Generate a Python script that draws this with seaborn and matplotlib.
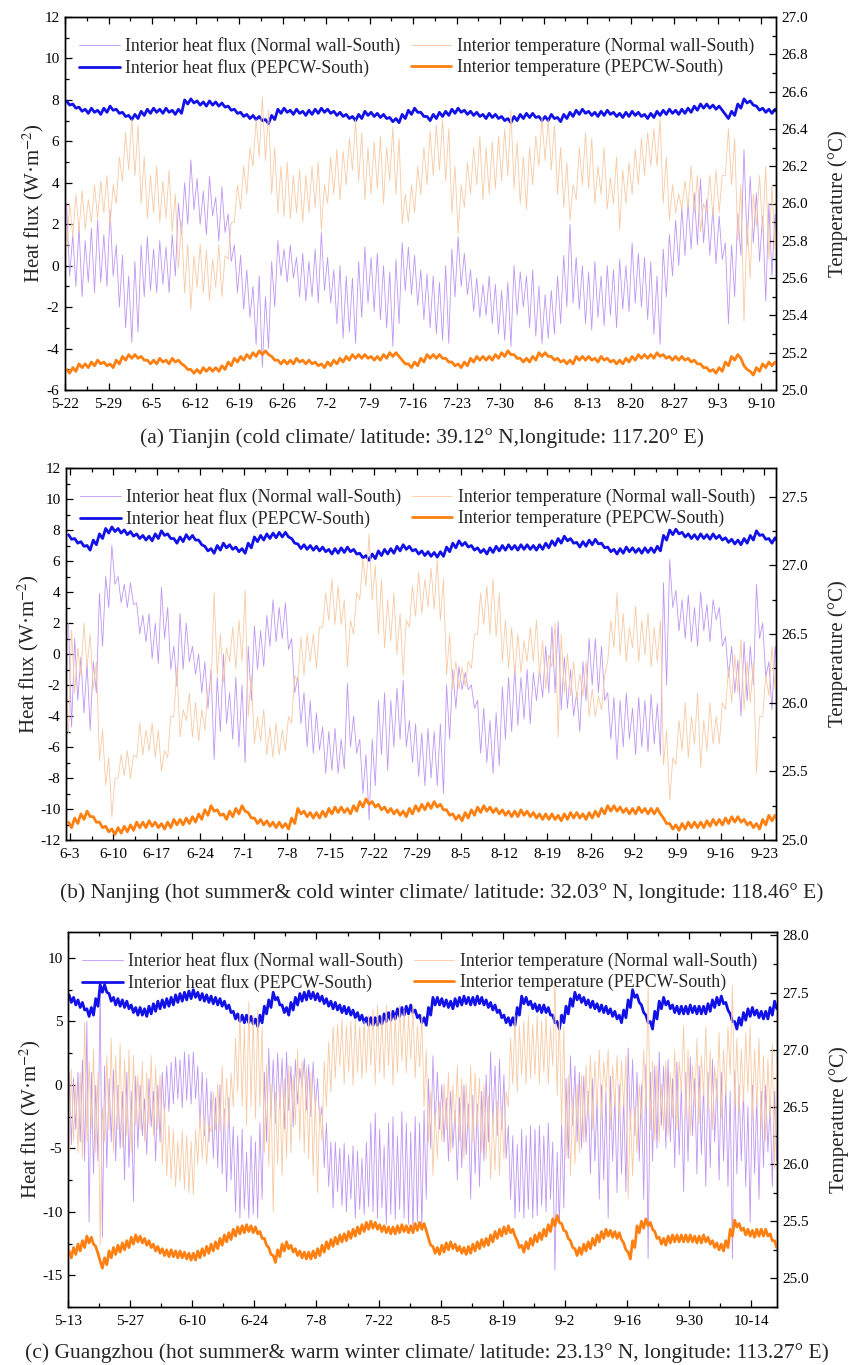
import numpy as np
import matplotlib
matplotlib.use("Agg")
import matplotlib.pyplot as plt
from matplotlib.ticker import MultipleLocator, FormatStrFormatter, FuncFormatter
import seaborn as sns

# ---------------- DATA (daily highs / lows) ----------------
# Panel (a) Tianjin
a_labels = ["5-22","5-29","6-5","6-12","6-19","6-26","7-2","7-9","7-16","7-23","7-30","8-6","8-13","8-20","8-27","9-3","9-10"]
flux_normal_a_hi = [3.0,1.5,1.9,1.2,1.8,2.2,1.5,2.7,1.0,0.5,-0.5,0.2,1.0,1.4,0.8,1.2,0.9,1.5,3.0,4.0,5.1,4.2,3.6,4.3,3.3,3.8,2.5,1.0,0.5,-0.2,-1.0,-0.5,-1.5,0.2,1.2,0.8,1.0,0.4,0.6,0.2,
    0.8,1.6,0.4,-0.2,0.0,-0.5,-0.6,0.2,0.9,0.4,0.6,0.0,-0.3,0.3,1.1,0.9,0.5,-0.2,-0.4,-0.5,-0.8,0.0,0.8,1.4,0.6,-0.2,-0.6,-0.9,-0.5,-0.9,-1.2,-0.8,0.0,-0.3,-0.5,-0.2,-1.0,-1.4,
    -1.2,-0.5,0.5,2.0,0.4,0.0,-0.3,0.2,-0.5,0.0,-0.2,0.3,0.0,1.1,0.6,0.4,0.2,-0.5,0.8,1.5,2.2,2.8,3.0,3.5,4.2,3.2,2.8,2.4,1.1,1.0,2.5,5.6,4.3,3.5,2.4,3.0,2.5]
flux_normal_a_lo = [-0.5,-1.0,-1.5,-0.8,-1.3,-0.8,-1.0,-0.5,-2.0,-3.0,-3.7,-3.2,-1.5,-1.2,-1.3,-0.9,-1.3,-0.5,1.5,2.0,2.7,2.0,1.5,2.4,1.2,1.6,0.2,-1.3,-2.1,-2.5,-3.8,-4.9,-4.0,-2.0,-0.5,-0.8,-0.6,-1.5,-1.7,-1.5,
    -1.8,-1.2,-1.8,-2.8,-3.5,-3.2,-3.75,-2.5,-1.8,-2.2,-2.6,-3.0,-3.9,-2.8,-1.2,-1.4,-1.9,-2.6,-3.0,-3.3,-3.6,-3.75,-1.5,-1.0,-1.4,-2.2,-2.5,-2.4,-2.8,-3.3,-3.6,-3.9,-2.4,-2.0,-3.0,-3.4,-3.75,-3.5,
    -3.3,-2.8,-2.0,-1.8,-2.1,-2.8,-3.1,-2.5,-2.9,-2.4,-3.0,-2.1,-2.2,-1.8,-2.0,-2.6,-3.3,-3.8,-1.5,-0.5,0.0,0.5,0.8,1.0,1.1,0.5,0.1,0.3,-2.8,-1.5,0.5,1.0,1.1,0.2,-1.7,-0.5,-1.0]
flux_pepcw_a_hi = [7.95,7.8,7.65,7.55,7.6,7.5,7.6,7.7,7.55,7.4,7.25,7.3,7.45,7.55,7.6,7.55,7.6,7.5,7.55,8.0,8.05,7.95,7.9,7.95,7.9,7.85,7.7,7.55,7.4,7.3,7.25,7.2,7.05,7.25,7.55,7.6,7.5,7.55,7.45,7.5,
    7.55,7.6,7.55,7.45,7.4,7.3,7.2,7.3,7.45,7.4,7.35,7.3,7.15,7.1,7.3,7.5,7.6,7.4,7.2,7.3,7.4,7.45,7.55,7.6,7.5,7.45,7.4,7.3,7.35,7.3,7.2,7.1,7.2,7.3,7.35,7.35,7.2,7.2,
    7.3,7.15,7.3,7.4,7.5,7.55,7.45,7.4,7.45,7.5,7.4,7.35,7.4,7.45,7.4,7.3,7.35,7.45,7.5,7.55,7.5,7.55,7.6,7.7,7.8,7.8,7.75,7.7,7.3,7.45,7.8,8.05,7.95,7.7,7.6,7.55,7.55]
flux_pepcw_a_lo = [7.75,7.6,7.45,7.35,7.4,7.3,7.4,7.5,7.35,7.2,7.05,7.1,7.25,7.35,7.4,7.35,7.4,7.3,7.35,7.8,7.85,7.75,7.7,7.75,7.7,7.65,7.5,7.35,7.2,7.1,7.05,7.0,6.85,7.05,7.35,7.4,7.3,7.35,7.25,7.3,
    7.35,7.4,7.35,7.25,7.2,7.1,7.0,7.1,7.25,7.2,7.15,7.1,6.95,6.9,7.1,7.3,7.4,7.2,7.0,7.1,7.2,7.25,7.35,7.4,7.3,7.25,7.2,7.1,7.15,7.1,7.0,6.9,7.0,7.1,7.15,7.15,7.0,7.0,
    7.1,6.95,7.1,7.2,7.3,7.35,7.25,7.2,7.25,7.3,7.2,7.15,7.2,7.25,7.2,7.1,7.15,7.25,7.3,7.35,7.3,7.35,7.4,7.5,7.6,7.6,7.55,7.5,7.1,7.25,7.6,7.85,7.75,7.5,7.4,7.35,7.35]
temp_normal_a_hi = [26.0,26.05,26.07,26.02,26.1,26.12,26.15,26.1,26.25,26.38,26.45,26.42,26.25,26.15,26.2,26.12,26.18,26.05,25.9,25.78,25.72,25.78,25.75,25.7,25.78,25.72,25.9,26.1,26.2,26.3,26.45,26.57,26.5,26.3,26.2,26.22,26.15,26.18,26.15,26.2,
    26.22,26.1,26.25,26.29,26.28,26.35,26.45,26.38,26.3,26.33,26.36,26.3,26.41,26.35,26.05,26.1,26.2,26.3,26.39,26.42,26.45,26.4,26.2,26.1,26.22,26.3,26.36,26.3,26.33,26.36,26.4,26.5,26.33,26.25,26.3,26.36,26.46,26.45,
    26.42,26.3,26.22,26.1,26.3,26.38,26.35,26.2,26.3,26.14,26.25,26.18,26.22,26.29,26.35,26.38,26.4,26.45,26.25,26.1,26.05,26.12,26.2,26.15,26.0,26.15,26.18,26.15,26.4,26.35,26.1,25.9,26.05,26.15,26.2,26.1,26.15]
temp_normal_a_lo = [25.75,25.82,25.85,25.86,25.9,25.92,25.95,25.88,26.0,26.12,26.18,26.15,26.0,25.92,25.95,25.9,25.92,25.85,25.65,25.52,25.43,25.55,25.52,25.48,25.55,25.5,25.7,25.9,25.97,26.05,26.2,26.25,26.23,26.05,25.95,25.93,25.92,25.95,25.9,25.95,
    25.98,25.86,26.0,26.05,26.02,26.1,26.18,26.12,26.02,26.05,26.08,26.0,26.12,26.05,25.89,25.9,25.95,26.05,26.1,26.15,26.18,26.12,25.95,25.84,25.98,26.05,26.1,26.02,26.05,26.08,26.12,26.15,26.08,26.0,25.97,26.1,26.2,26.23,
    26.18,26.05,25.98,25.91,26.02,26.1,26.08,26.0,26.05,25.97,26.0,25.86,26.0,26.05,26.1,26.15,26.2,26.2,26.0,25.91,25.95,25.97,25.98,25.95,25.85,25.95,25.93,25.95,26.15,26.1,25.8,25.37,25.6,25.88,25.85,25.7,25.75]
temp_pepcw_a_hi = [25.11,25.12,25.14,25.14,25.15,25.16,25.15,25.14,25.16,25.18,25.19,25.19,25.18,25.16,25.16,25.17,25.16,25.17,25.16,25.13,25.11,25.11,25.12,25.12,25.12,25.13,25.15,25.17,25.18,25.19,25.20,25.21,25.21,25.18,25.16,25.16,25.16,25.17,25.16,25.16,
    25.15,25.14,25.15,25.16,25.17,25.18,25.19,25.19,25.19,25.18,25.18,25.19,25.20,25.20,25.16,25.14,25.15,25.17,25.19,25.19,25.19,25.17,25.15,25.14,25.15,25.17,25.18,25.18,25.18,25.19,25.20,25.21,25.19,25.17,25.17,25.18,25.20,25.20,
    25.18,25.17,25.16,25.16,25.18,25.18,25.18,25.17,25.18,25.17,25.16,25.16,25.17,25.18,25.19,25.19,25.19,25.20,25.19,25.18,25.18,25.18,25.17,25.16,25.14,25.12,25.11,25.12,25.15,25.18,25.19,25.13,25.10,25.12,25.14,25.15,25.15]
temp_pepcw_a_lo = [25.09,25.10,25.12,25.12,25.13,25.14,25.13,25.12,25.14,25.16,25.17,25.17,25.16,25.14,25.14,25.15,25.14,25.15,25.14,25.11,25.09,25.09,25.10,25.10,25.10,25.11,25.13,25.15,25.16,25.17,25.18,25.19,25.19,25.16,25.14,25.14,25.14,25.15,25.14,25.14,
    25.13,25.12,25.13,25.14,25.15,25.16,25.17,25.17,25.17,25.16,25.16,25.17,25.18,25.18,25.14,25.12,25.13,25.15,25.17,25.17,25.17,25.15,25.13,25.12,25.13,25.15,25.16,25.16,25.16,25.17,25.18,25.19,25.17,25.15,25.15,25.16,25.18,25.18,
    25.16,25.15,25.14,25.14,25.16,25.16,25.16,25.15,25.16,25.15,25.14,25.14,25.15,25.16,25.17,25.17,25.17,25.18,25.17,25.16,25.16,25.16,25.15,25.14,25.12,25.10,25.09,25.10,25.13,25.16,25.17,25.11,25.08,25.10,25.12,25.13,25.13]

# Panel (b) Nanjing
b_labels = ["6-3","6-10","6-17","6-24","7-1","7-8","7-15","7-22","7-29","8-5","8-12","8-19","8-26","9-2","9-9","9-16","9-23"]
flux_normal_b_hi = [2.0,1.0,-0.2,-0.6,-0.5,3.9,5.0,7.0,5.0,4.5,4.6,3.3,2.5,2.6,2.0,4.3,3.0,0.5,2.6,2.0,0.5,0.0,-0.5,-1.0,-1.5,0.0,-2.5,-1.5,-2.0,0.5,1.8,1.5,2.5,3.5,3.0,3.3,1.0,-1.5,-2.5,
    -3.0,-3.8,-4.7,-5.0,-4.8,-5.5,-1.9,-4.0,-5.5,-6.5,-5.5,-3.0,-2.5,-3.0,-2.2,-1.7,-4.3,-4.5,-5.1,-4.8,-5.0,-4.5,-2.0,-1.0,-0.8,-1.2,-2.0,-3.0,-3.5,-4.3,-3.8,-2.1,-1.5,-0.8,-1.5,-1.0,-1.2,-1.0,0.5,
    1.8,2.1,-0.2,-1.0,-2.5,-0.5,1.0,1.0,0.5,-2.5,-2.8,-3.0,-2.5,-3.5,-2.8,-3.0,-2.6,-3.2,4.6,6.1,4.1,3.5,3.8,3.0,4.0,3.2,3.5,3.0,1.1,0.5,-0.4,0.8,0.5,4.5,2.0,-0.5,0.5]
flux_normal_b_lo = [-4.7,-3.0,-3.8,-4.9,-2.5,0.5,3.0,4.5,3.3,3.0,3.2,1.3,0.8,-0.3,-0.6,1.0,-1.0,-2.1,-1.0,-0.5,-1.3,-2.5,-3.5,-6.8,-5.0,-4.5,-5.5,-6.0,-7.0,-3.0,-1.0,-0.8,0.5,0.8,1.0,0.3,-2.5,-4.5,-6.0,
    -6.4,-6.2,-7.7,-7.5,-7.7,-7.4,-6.0,-6.4,-9.0,-10.7,-8.5,-6.5,-7.5,-6.0,-5.5,-6.0,-7.0,-7.9,-8.5,-8.0,-8.5,-9.0,-5.5,-3.5,-2.3,-2.3,-3.5,-6.4,-7.0,-7.7,-7.2,-5.5,-5.0,-4.6,-4.2,-4.5,-3.0,-2.8,-2.5,
    -2.5,-3.6,-3.5,-4.0,-5.0,-3.0,-2.0,-2.5,-3.0,-5.5,-6.8,-6.0,-5.5,-6.5,-6.0,-6.3,-5.8,-6.5,-2.0,3.0,1.5,1.0,0.8,0.5,1.5,0.8,2.2,0.5,-1.5,-2.5,-4.0,-3.0,-2.0,1.0,-1.5,-3.6,-1.5]
flux_pepcw_b_hi = [7.7,7.45,7.25,7.0,7.35,7.75,8.1,8.2,8.1,8.0,7.9,7.75,7.65,7.6,7.75,7.95,7.75,7.45,7.55,7.7,7.65,7.35,6.95,6.8,7.0,7.15,7.05,6.9,6.8,7.15,7.55,7.65,7.75,7.8,7.85,7.85,7.45,7.1,7.05,
    7.0,6.95,6.9,6.75,6.8,6.85,6.9,6.75,6.5,6.35,6.45,6.65,6.75,6.8,6.95,7.05,6.95,6.75,6.65,6.6,6.55,6.6,6.9,7.15,7.3,7.2,7.0,6.85,6.75,6.85,6.95,7.0,7.05,7.0,7.05,7.05,7.0,7.05,7.15,
    7.3,7.45,7.6,7.45,7.2,7.25,7.35,7.4,7.15,6.9,6.75,6.8,6.9,6.85,6.8,6.85,6.85,6.95,7.65,8.0,8.05,7.85,7.75,7.7,7.75,7.7,7.75,7.65,7.5,7.4,7.35,7.45,7.65,7.95,7.7,7.45,7.5]
flux_pepcw_b_lo = [7.4,7.15,6.95,6.7,7.05,7.45,7.8,7.9,7.8,7.7,7.6,7.45,7.35,7.3,7.45,7.65,7.45,7.15,7.25,7.4,7.35,7.05,6.65,6.5,6.7,6.85,6.75,6.6,6.5,6.85,7.25,7.35,7.45,7.5,7.55,7.55,7.15,6.8,6.75,
    6.7,6.65,6.6,6.45,6.5,6.55,6.6,6.45,6.2,6.05,6.15,6.35,6.45,6.5,6.65,6.75,6.65,6.45,6.35,6.3,6.25,6.3,6.6,6.85,7.0,6.9,6.7,6.55,6.45,6.55,6.65,6.7,6.75,6.7,6.75,6.75,6.7,6.75,6.85,
    7.0,7.15,7.3,7.15,6.9,6.95,7.05,7.1,6.85,6.6,6.45,6.5,6.6,6.55,6.5,6.55,6.55,6.65,7.35,7.7,7.75,7.55,7.45,7.4,7.45,7.4,7.45,7.35,7.2,7.1,7.05,7.15,7.35,7.65,7.4,7.15,7.2]
temp_normal_b_hi = [26.53,26.4,26.58,26.5,26.3,25.8,25.6,25.45,25.62,25.65,25.62,25.85,25.8,25.85,25.8,25.65,25.9,26.26,25.95,26.07,26.0,25.95,26.1,26.8,26.5,26.4,26.55,26.6,26.82,26.2,25.9,25.95,25.82,25.85,25.8,25.9,26.2,26.48,26.5,
    26.5,26.55,26.8,26.9,26.85,26.75,26.6,26.8,27.05,27.23,27.0,26.9,26.75,26.8,26.65,26.6,26.85,26.95,26.9,26.98,27.04,26.9,26.5,26.3,26.26,26.3,26.5,26.8,26.85,26.9,26.8,26.6,26.55,26.5,26.45,26.55,26.6,26.45,26.35,
    26.58,26.5,26.36,26.3,26.21,26.3,26.1,26.05,26.2,26.6,26.8,26.65,26.55,26.7,26.6,26.65,26.55,26.6,25.8,25.6,25.87,26.0,25.9,26.07,25.87,26.0,25.9,26.0,26.26,26.35,26.46,26.3,26.3,25.9,26.2,26.41,26.3]
temp_normal_b_lo = [25.78,26.07,26.2,26.26,26.1,25.58,25.4,25.17,25.45,25.47,25.45,25.6,25.62,25.65,25.6,25.5,25.6,25.9,25.75,25.87,25.75,25.72,25.8,26.1,26.2,26.15,26.3,26.25,26.3,25.9,25.7,25.72,25.62,25.6,25.62,25.65,25.85,26.15,26.2,
    26.3,26.25,26.55,26.6,26.57,26.57,26.26,26.5,26.75,26.85,26.75,26.5,26.4,26.45,26.35,26.2,26.55,26.63,26.65,26.7,26.68,26.6,26.2,26.1,26.1,26.12,26.25,26.5,26.57,26.5,26.48,26.3,26.25,26.2,26.22,26.3,26.3,26.2,26.1,
    26.26,25.75,26.07,26.05,26.02,26.05,25.9,25.9,25.95,26.3,26.4,26.35,26.3,26.4,26.3,26.35,26.26,26.3,25.55,25.29,25.55,25.65,25.6,25.7,25.53,25.65,25.7,25.7,25.95,26.0,26.07,25.95,26.0,25.49,25.9,26.05,26.1]
temp_pepcw_b_hi = [25.13,25.16,25.19,25.21,25.17,25.13,25.10,25.08,25.09,25.10,25.11,25.13,25.13,25.14,25.13,25.12,25.13,25.15,25.15,25.16,25.17,25.19,25.22,25.25,25.22,25.19,25.21,25.23,25.25,25.20,25.16,25.15,25.14,25.13,25.13,25.12,25.16,25.23,25.21,
    25.20,25.20,25.21,25.23,25.24,25.24,25.23,25.25,25.28,25.30,25.28,25.26,25.24,25.23,25.22,25.21,25.23,25.25,25.26,25.27,25.28,25.26,25.22,25.19,25.18,25.20,25.22,25.24,25.25,25.24,25.23,25.22,25.21,25.21,25.22,25.21,25.20,25.19,25.19,
    25.19,25.18,25.19,25.20,25.20,25.19,25.20,25.21,25.23,25.25,25.25,25.24,25.23,25.23,25.24,25.23,25.23,25.23,25.16,25.12,25.11,25.12,25.13,25.13,25.13,25.14,25.15,25.15,25.16,25.17,25.17,25.15,25.13,25.12,25.15,25.18,25.18]
temp_pepcw_b_lo = [25.09,25.12,25.15,25.17,25.13,25.09,25.06,25.04,25.05,25.06,25.07,25.09,25.09,25.10,25.09,25.08,25.09,25.11,25.11,25.12,25.13,25.15,25.18,25.21,25.18,25.15,25.17,25.19,25.21,25.16,25.12,25.11,25.10,25.09,25.09,25.08,25.12,25.19,25.17,
    25.16,25.16,25.17,25.19,25.20,25.20,25.19,25.21,25.24,25.26,25.24,25.22,25.20,25.19,25.18,25.17,25.19,25.21,25.22,25.23,25.24,25.22,25.18,25.15,25.14,25.16,25.18,25.20,25.21,25.20,25.19,25.18,25.17,25.17,25.18,25.17,25.16,25.15,25.15,
    25.15,25.14,25.15,25.16,25.16,25.15,25.16,25.17,25.19,25.21,25.21,25.20,25.19,25.19,25.20,25.19,25.19,25.19,25.12,25.08,25.07,25.08,25.09,25.09,25.09,25.10,25.11,25.11,25.12,25.13,25.13,25.11,25.09,25.08,25.11,25.14,25.14]

# Panel (c) Guangzhou
c_labels = ["5-13","5-27","6-10","6-24","7-8","7-22","8-5","8-19","9-2","9-16","9-30","10-14"]
flux_normal_c_hi = [1.0,0.5,1.0,2.0,5.0,1.0,0.0,7.9,1.5,0.5,1.2,0.0,-0.5,1.0,-0.5,0.7,0.0,-1.1,0.5,-0.5,0.0,1.0,1.5,1.8,2.2,2.0,2.6,2.4,2.6,1.5,1.0,0.5,-0.5,-1.0,0.0,-1.9,-1.0,-3.3,-4.0,-3.5,-5.3,-4.0,-4.5,-3.0,1.0,2.9,2.0,2.5,2.1,2.6,1.5,2.0,1.3,2.1,1.6,
    1.8,0.5,-1.7,-3.0,-4.5,-4.5,-5.0,-4.6,-5.5,-4.8,-5.2,-5.8,-4.5,-3.0,-2.2,-3.5,-4.8,-3.0,-2.5,-4.0,-2.1,-3.0,-3.7,-2.5,-3.0,-2.0,0.5,2.3,1.0,0.0,-1.0,-0.5,-2.0,-1.0,0.0,-1.5,-0.8,-1.5,-0.5,0.8,2.6,1.5,2.0,0.8,-3.2,-4.0,-4.7,-3.5,-4.0,-3.2,-3.5,-3.2,-4.0,-3.0,
    -4.5,-5.3,-3.0,0.5,2.3,1.5,1.0,0.7,-0.5,0.5,-1.1,0.0,-0.5,0.7,-0.8,0.0,-1.0,2.9,2.0,1.0,0.0,1.6,1.0,1.5,2.6,1.5,2.0,0.5,1.8,0.0,1.0,2.2,0.5,1.5,0.0,1.0,2.0,0.5,1.0,0.0,-0.5,1.1,0.0,-0.5,-1.7,0.0,-1.0,-0.5,0.0,-1.5,-0.5]
flux_normal_c_lo = [-4.7,-3.5,-4.5,-6.0,-10.8,-7.0,-6.0,-12.0,-6.5,-4.5,-6.0,-5.0,-7.5,-6.5,-9.2,-5.0,-4.0,-5.5,-3.3,-6.0,-4.5,-2.5,-2.1,-1.5,-1.1,-1.8,-1.2,-1.5,-1.1,-3.3,-4.0,-4.5,-5.8,-6.5,-7.0,-8.4,-7.5,-10.0,-10.5,-9.8,-10.5,-10.2,-10.5,-9.0,-4.5,-2.5,-3.0,-1.9,-3.5,-2.0,-3.3,-1.5,-0.2,-2.0,-2.5,
    -1.7,-3.0,-6.5,-8.0,-9.7,-8.4,-9.5,-10.0,-9.0,-10.5,-9.8,-10.2,-9.6,-10.0,-10.5,-9.7,-11.0,-10.2,-10.6,-9.8,-10.5,-11.0,-11.6,-10.8,-11.2,-9.0,-5.0,-3.2,-3.5,-4.5,-6.0,-5.0,-7.5,-6.5,-5.5,-9.0,-7.0,-8.0,-6.0,-4.5,-3.2,-4.0,-3.5,-5.8,-9.0,-10.5,-10.0,-10.5,-9.8,-10.5,-10.3,-9.5,-10.0,-9.0,
    -14.6,-11.0,-9.7,-5.8,-3.2,-4.5,-5.0,-4.5,-7.0,-6.0,-9.0,-7.5,-10.5,-6.0,-8.5,-7.0,-8.4,-3.5,-4.0,-6.0,-9.0,-13.7,-6.0,-5.0,-3.2,-5.0,-4.5,-6.5,-5.5,-8.4,-6.0,-4.0,-7.0,-5.5,-8.0,-6.5,-4.5,-7.5,-6.0,-8.0,-13.7,-7.0,-6.0,-8.0,-10.8,-7.0,-9.0,-6.5,-5.3,-8.0,-6.0]
flux_pepcw_c_hi = [7.1,6.9,6.7,6.5,6.0,6.1,6.8,7.9,7.9,7.2,6.9,6.8,6.7,6.6,6.3,6.1,6.1,6.0,6.2,6.4,6.6,6.7,6.8,6.9,7.1,7.2,7.3,7.4,7.5,7.3,7.2,7.1,7.0,6.9,6.8,6.6,6.3,5.8,5.6,5.5,5.5,5.4,5.2,5.5,6.2,6.7,7.3,6.9,6.3,6.1,6.5,6.9,7.2,7.3,7.4,
    7.3,7.2,7.0,6.8,6.6,6.5,6.3,6.2,6.1,5.9,5.7,5.5,5.3,5.3,5.3,5.4,5.6,5.7,5.8,6.0,6.1,6.2,6.3,5.9,5.5,5.3,6.1,6.9,6.9,6.8,6.7,6.6,6.8,6.9,7.0,6.9,6.9,7.0,6.9,6.7,6.5,6.3,5.9,5.5,5.3,5.3,6.1,7.0,6.9,6.6,6.4,6.3,
    6.3,6.1,5.5,5.0,5.5,6.2,6.8,7.3,7.1,6.9,6.7,6.6,6.4,6.3,6.2,6.0,5.8,5.5,5.9,6.7,7.5,7.1,6.3,5.5,5.0,5.8,6.6,6.9,6.6,6.3,6.2,6.2,6.2,6.3,6.2,6.2,6.2,6.4,6.7,6.9,7.0,6.5,5.6,5.0,5.3,5.7,6.0,6.1,5.9,5.8,5.8,6.1,6.6]
flux_pepcw_c_lo = [6.5,6.3,6.1,5.9,5.4,5.5,6.2,7.3,7.3,6.6,6.3,6.2,6.1,6.0,5.7,5.5,5.5,5.4,5.6,5.8,6.0,6.1,6.2,6.3,6.5,6.6,6.7,6.8,6.9,6.7,6.6,6.5,6.4,6.3,6.2,6.0,5.7,5.2,5.0,4.9,4.9,4.8,4.6,4.9,5.6,6.1,6.7,6.3,5.7,5.5,5.9,6.3,6.6,6.7,6.8,
    6.7,6.6,6.4,6.2,6.0,5.9,5.7,5.6,5.5,5.3,5.1,4.9,4.7,4.7,4.7,4.8,5.0,5.1,5.2,5.4,5.5,5.6,5.7,5.3,4.9,4.7,5.5,6.3,6.3,6.2,6.1,6.0,6.2,6.3,6.4,6.3,6.3,6.4,6.3,6.1,5.9,5.7,5.3,4.9,4.7,4.7,5.5,6.4,6.3,6.0,5.8,5.7,
    5.7,5.5,4.9,4.4,4.9,5.6,6.2,6.7,6.5,6.3,6.1,6.0,5.8,5.7,5.6,5.4,5.2,4.9,5.3,6.1,6.9,6.5,5.7,4.9,4.4,5.2,6.0,6.3,6.0,5.7,5.6,5.6,5.6,5.7,5.6,5.6,5.6,5.8,6.1,6.3,6.4,5.9,5.0,4.4,4.7,5.1,5.4,5.5,5.3,5.2,5.2,5.5,6.0]
temp_normal_c_hi = [26.83,26.7,26.8,27.24,26.9,27.0,26.8,26.5,26.95,27.1,26.95,27.05,26.92,27.0,26.95,26.78,26.9,26.8,26.95,26.85,26.78,26.5,26.34,26.3,26.2,26.3,26.25,26.2,26.3,26.45,26.4,26.34,26.63,26.7,26.86,26.75,26.8,27.1,27.3,27.21,27.42,27.3,27.35,27.2,26.86,26.7,26.63,26.7,26.75,26.86,26.78,27.0,26.9,26.85,26.8,
    26.6,26.5,26.9,27.07,27.2,27.22,27.27,27.21,27.25,27.27,27.2,27.25,27.3,27.35,27.39,27.3,27.39,27.35,27.3,27.39,27.35,27.3,27.39,27.21,27.3,27.0,26.63,26.45,26.55,26.7,26.8,26.69,26.86,26.75,26.7,26.86,26.8,26.75,26.7,26.6,26.45,26.55,26.5,26.63,27.1,27.3,27.21,27.25,27.3,27.22,27.3,27.25,
    27.3,27.2,27.6,27.3,27.2,26.78,26.6,26.7,26.78,26.86,26.95,26.9,27.0,26.9,27.0,26.86,26.95,26.9,26.95,26.48,26.5,26.7,27.0,27.56,26.9,26.86,26.7,26.9,26.8,27.0,26.9,27.21,27.0,26.86,27.1,26.95,27.2,27.0,26.86,27.15,27.0,27.2,27.56,27.1,27.0,27.15,27.21,27.0,27.1,26.95,26.92,27.05,26.9]
temp_normal_c_lo = [26.05,26.2,26.1,26.05,26.2,26.3,26.1,25.29,26.2,26.3,26.1,26.3,26.15,26.25,26.1,26.34,26.3,26.2,26.34,26.25,26.3,26.0,25.9,25.87,25.8,25.85,25.78,25.75,25.73,26.0,26.05,26.0,26.28,26.3,26.28,26.3,26.35,26.5,26.63,26.5,26.34,26.5,26.4,26.5,26.1,25.98,25.58,26.0,25.9,26.05,26.1,26.34,26.2,26.1,26.05,
    25.9,25.75,26.2,26.5,26.63,26.75,26.86,26.7,26.8,26.69,26.8,26.75,26.8,26.86,26.7,26.8,26.75,26.86,26.69,26.8,26.9,26.8,26.92,26.75,26.85,26.5,26.19,25.9,26.05,26.2,26.3,26.1,26.34,26.2,26.05,26.3,26.2,26.34,26.1,26.05,25.87,25.95,25.9,26.05,26.5,26.7,26.63,26.78,26.7,26.75,26.78,26.7,
    26.8,26.7,26.86,26.6,26.34,26.05,25.9,26.0,26.1,26.19,26.4,26.3,26.5,26.4,26.63,26.3,26.5,26.4,26.5,25.7,25.9,26.1,26.4,26.5,26.3,26.2,26.19,26.3,26.25,26.4,26.3,26.63,26.4,26.25,26.5,26.35,26.6,26.45,26.3,26.55,26.4,26.6,26.78,26.5,26.45,26.55,26.63,26.4,26.5,26.3,26.2,26.4,25.96]
temp_pepcw_c_hi = [25.24,25.27,25.30,25.33,25.37,25.36,25.28,25.15,25.18,25.24,25.27,25.29,25.31,25.33,25.36,25.38,25.37,25.35,25.33,25.30,25.28,25.26,25.25,25.25,25.24,25.24,25.23,25.22,25.22,25.24,25.26,25.28,25.30,25.32,25.35,25.38,25.40,25.43,25.45,25.46,25.47,25.46,25.45,25.41,25.35,25.27,25.20,25.25,25.30,25.32,25.29,25.26,25.24,25.23,25.23,
    25.24,25.26,25.29,25.32,25.34,25.36,25.38,25.39,25.41,25.43,25.45,25.47,25.49,25.50,25.49,25.47,25.46,25.45,25.45,25.46,25.47,25.46,25.46,25.48,25.49,25.48,25.35,25.28,25.27,25.29,25.31,25.32,25.30,25.28,25.27,25.28,25.30,25.32,25.34,25.35,25.38,25.41,25.43,25.45,25.46,25.43,25.33,25.29,25.32,25.35,25.38,25.40,
    25.43,25.47,25.52,25.55,25.48,25.41,25.33,25.26,25.27,25.30,25.32,25.35,25.38,25.41,25.43,25.42,25.41,25.40,25.31,25.23,25.33,25.46,25.50,25.52,25.49,25.41,25.36,25.35,25.37,25.38,25.38,25.38,25.38,25.38,25.37,25.37,25.38,25.36,25.33,25.31,25.30,25.33,25.43,25.51,25.48,25.44,25.43,25.42,25.43,25.43,25.43,25.39,25.33]
temp_pepcw_c_lo = [25.18,25.21,25.24,25.27,25.31,25.30,25.22,25.09,25.12,25.18,25.21,25.23,25.25,25.27,25.30,25.32,25.31,25.29,25.27,25.24,25.22,25.20,25.19,25.19,25.18,25.18,25.17,25.16,25.16,25.18,25.20,25.22,25.24,25.26,25.29,25.32,25.34,25.37,25.39,25.40,25.41,25.40,25.39,25.35,25.29,25.21,25.14,25.19,25.24,25.26,25.23,25.20,25.18,25.17,25.17,
    25.18,25.20,25.23,25.26,25.28,25.30,25.32,25.33,25.35,25.37,25.39,25.41,25.43,25.44,25.43,25.41,25.40,25.39,25.39,25.40,25.41,25.40,25.40,25.42,25.43,25.42,25.29,25.22,25.21,25.23,25.25,25.26,25.24,25.22,25.21,25.22,25.24,25.26,25.28,25.29,25.32,25.35,25.37,25.39,25.40,25.37,25.27,25.23,25.26,25.29,25.32,25.34,
    25.37,25.41,25.46,25.49,25.42,25.35,25.27,25.20,25.21,25.24,25.26,25.29,25.32,25.35,25.37,25.36,25.35,25.34,25.25,25.17,25.27,25.40,25.44,25.46,25.43,25.35,25.30,25.29,25.31,25.32,25.32,25.32,25.32,25.32,25.31,25.31,25.32,25.30,25.27,25.25,25.24,25.27,25.37,25.45,25.42,25.38,25.37,25.36,25.37,25.37,25.37,25.33,25.27]

series_names = ["Interior heat flux (Normal wall-South)", "Interior heat flux (PEPCW-South)",
                "Interior temperature (Normal wall-South)", "Interior temperature (PEPCW-South)"]
captions = ["(a) Tianjin (cold climate/ latitude: 39.12\u00b0 N,longitude: 117.20\u00b0 E)",
            "(b) Nanjing (hot summer& cold winter climate/ latitude: 32.03\u00b0 N, longitude: 118.46\u00b0 E)",
            "(c) Guangzhou (hot summer& warm winter climate/ latitude: 23.13\u00b0 N, longitude: 113.27\u00b0 E)"]

# ---------------- STYLE ----------------
sns.set_theme(style="ticks")
plt.rcParams["font.family"] = ["Liberation Serif", "DejaVu Serif"]
plt.rcParams["axes.unicode_minus"] = False
plt.rcParams["mathtext.fontset"] = "stix"

C_PURPLE = "#bf96f2"
C_PEACH = "#f8c9a2"
C_BLUE = "#1212e8"
C_ORANGE = "#ff8010"

W, H = 852, 1365
fig = plt.figure(figsize=(W / 100, H / 100), dpi=100)


def rect(l, r, t, b):
    return [l / W, 1 - b / H, (r - l) / W, (b - t) / H]


def zigzag(start, first, second):
    first = np.asarray(first, float)
    second = np.asarray(second, float)
    d = np.arange(len(first))
    x = np.column_stack([start + d + 0.25, start + d + 0.75]).ravel()
    y = np.column_stack([first, second]).ravel()
    return x, y


panels = [
    dict(rect=rect(65, 776, 17, 390), start=0.0, xlim=(0, 114.4), step=7, minor=3.5, labels=a_labels,
         fh=flux_normal_a_hi, fl=flux_normal_a_lo, ph=flux_pepcw_a_hi, pl=flux_pepcw_a_lo,
         th=temp_normal_a_hi, tl=temp_normal_a_lo, qh=temp_pepcw_a_hi, ql=temp_pepcw_a_lo,
         ylim=(-6, 12), ymaj=2, ymin=1, y2lim=(25.0, 27.0), y2maj=0.2, y2min=0.1,
         cap=captions[0], capxy=(422, 438)),
    dict(rect=rect(66, 776, 468, 840), start=-0.5, xlim=(-0.65, 113.9), step=7, minor=3.5, labels=b_labels,
         fh=flux_normal_b_hi, fl=flux_normal_b_lo, ph=flux_pepcw_b_hi, pl=flux_pepcw_b_lo,
         th=temp_normal_b_hi, tl=temp_normal_b_lo, qh=temp_pepcw_b_hi, ql=temp_pepcw_b_lo,
         ylim=(-12, 12), ymaj=2, ymin=1, y2lim=(25.0, 27.71), y2maj=0.5, y2min=0.25,
         cap=captions[1], capxy=(442, 893)),
    dict(rect=rect(68, 777, 932, 1307), start=0.0, xlim=(0, 159.8), step=14, minor=7, labels=c_labels,
         fh=flux_normal_c_hi, fl=flux_normal_c_lo, ph=flux_pepcw_c_hi, pl=flux_pepcw_c_lo,
         th=temp_normal_c_hi, tl=temp_normal_c_lo, qh=temp_pepcw_c_hi, ql=temp_pepcw_c_lo,
         ylim=(-17.5, 12.05), ymaj=5, ymin=2.5, y2lim=(24.75, 28.03), y2maj=0.5, y2min=0.25,
         cap=captions[2], capxy=(427, 1353)),
]

for p in panels:
    ax = fig.add_axes(p["rect"])
    ax2 = ax.twinx()
    x1, y1 = zigzag(p["start"], p["fh"], p["fl"])
    x2, y2 = zigzag(p["start"], p["ph"], p["pl"])
    x3, y3 = zigzag(p["start"], p["tl"], p["th"])
    x4, y4 = zigzag(p["start"], p["qh"], p["ql"])
    sns.lineplot(x=x1, y=y1, ax=ax, color=C_PURPLE, lw=0.6, estimator=None, sort=False, legend=False)
    sns.lineplot(x=x2, y=y2, ax=ax, color=C_BLUE, lw=2.0, estimator=None, sort=False, legend=False)
    sns.lineplot(x=x3, y=y3, ax=ax2, color=C_PEACH, lw=0.6, estimator=None, sort=False, legend=False)
    sns.lineplot(x=x4, y=y4, ax=ax2, color=C_ORANGE, lw=2.0, estimator=None, sort=False, legend=False)

    ax.set_xlim(*p["xlim"])
    ax.set_ylim(*p["ylim"])
    ax2.set_ylim(*p["y2lim"])
    ticks = [i * p["step"] for i in range(len(p["labels"]))]
    ax.set_xticks(ticks)
    ax.set_xticklabels(p["labels"])
    ax.xaxis.set_minor_locator(MultipleLocator(p["minor"]))
    ax.yaxis.set_major_locator(MultipleLocator(p["ymaj"]))
    ax.yaxis.set_minor_locator(MultipleLocator(p["ymin"]))
    ax.yaxis.set_major_formatter(FuncFormatter(lambda v, pos: "%g" % round(v, 2)))
    ax2.yaxis.set_major_locator(MultipleLocator(p["y2maj"]))
    ax2.yaxis.set_minor_locator(MultipleLocator(p["y2min"]))
    ax2.yaxis.set_major_formatter(FormatStrFormatter("%.1f"))

    ax.tick_params(which="both", direction="in", top=True, right=False, labelsize=11, colors="black")
    ax.tick_params(axis="x", which="both", pad=6)
    ax.tick_params(axis="y", which="both", pad=4)
    ax.tick_params(which="major", length=5, width=0.9)
    ax.tick_params(which="minor", length=3, width=0.9)
    ax2.tick_params(which="both", direction="in", right=True, labelsize=11, pad=4, colors="black")
    ax2.tick_params(which="major", length=5, width=0.9)
    ax2.tick_params(which="minor", length=3, width=0.9)
    for a in (ax, ax2):
        for s in a.spines.values():
            s.set_linewidth(1.0)
            s.set_color("black")
    ax.set_xlabel("")
    ax.set_ylabel("Heat flux (W\u00b7m$^{-2}$)", fontsize=15, labelpad=-1)
    ax2.set_ylabel("Temperature (\u00b0C)", fontsize=15, labelpad=14)

    handles = [ax.lines[0], ax.lines[1], ax2.lines[0], ax2.lines[1]]
    ax2.legend(handles, series_names, ncol=2, loc="upper left", bbox_to_anchor=(0.005, 0.975),
               frameon=False, fontsize=12.9, handlelength=2.25, handletextpad=0.3,
               columnspacing=0.6, labelspacing=0.22, borderaxespad=0.2)

    cx, cy = p["capxy"]
    fig.text(cx / W, 1 - cy / H, p["cap"], ha="center", va="center", fontsize=15.5)

fig.savefig("out.png", dpi=100)
